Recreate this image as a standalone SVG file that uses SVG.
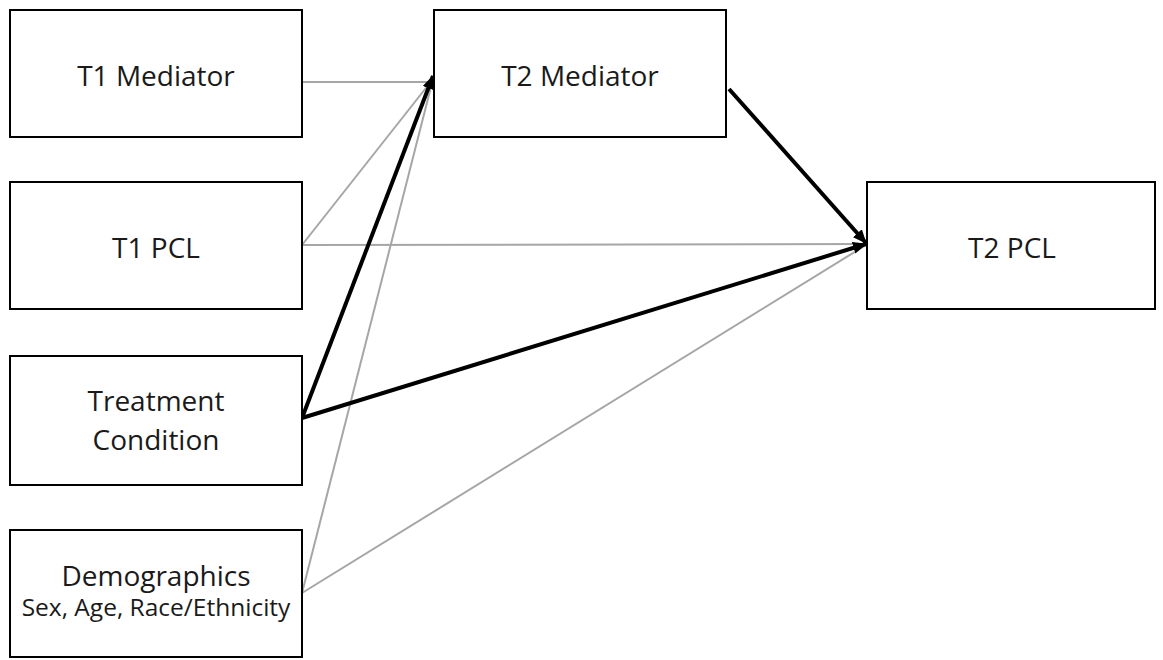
<svg xmlns="http://www.w3.org/2000/svg" width="1163" height="660" viewBox="0 0 1163 660">
<style>
.box{fill:#fff;stroke:#000;stroke-width:2}
.lbl{font-family:"Open Sans","Liberation Sans",sans-serif;font-size:28px;fill:#1a1a1a;text-anchor:middle}
.sub{font-size:24.5px}
.thin{stroke:#a6a6a6;stroke-width:2;fill:none}
.thick{stroke:#000;stroke-width:4;fill:none}
</style>
<defs>
<marker id="ah" markerUnits="userSpaceOnUse" markerWidth="14" markerHeight="12" refX="13" refY="6" orient="auto">
<path d="M0,0 L14,6 L0,12 Z" fill="#000"/>
</marker>
</defs>
<rect width="1163" height="660" fill="#fff"/>
<g id="connectors">
<line class="thin" x1="302" y1="82" x2="432" y2="82"/>
<line class="thin" x1="302" y1="245" x2="433" y2="79"/>
<line class="thin" x1="302" y1="593" x2="433" y2="79"/>
<line class="thin" x1="302" y1="245" x2="866" y2="244"/>
<line class="thin" x1="302" y1="593" x2="866" y2="245"/>
<line class="thick" x1="302" y1="418" x2="433" y2="76" marker-end="url(#ah)"/>
<line class="thick" x1="302" y1="418" x2="866" y2="244" marker-end="url(#ah)"/>
<line class="thick" x1="729" y1="89" x2="866" y2="243" marker-end="url(#ah)"/>
</g>
<g id="t1-mediator">
<rect class="box" x="10" y="10" width="292" height="127"/>
<text class="lbl" x="156" y="86">T1 Mediator</text>
</g>
<g id="t1-pcl">
<rect class="box" x="10" y="182" width="292" height="127"/>
<text class="lbl" x="156" y="258">T1 PCL</text>
</g>
<g id="treatment">
<rect class="box" x="10" y="356" width="292" height="129"/>
<text class="lbl" x="156" y="411">Treatment</text>
<text class="lbl" x="156" y="450">Condition</text>
</g>
<g id="demographics">
<rect class="box" x="10" y="530" width="292" height="127"/>
<text class="lbl" x="156" y="586">Demographics</text>
<text class="lbl sub" x="156" y="616">Sex, Age, Race/Ethnicity</text>
</g>
<g id="t2-mediator">
<rect class="box" x="434" y="10" width="292" height="127"/>
<text class="lbl" x="580" y="86">T2 Mediator</text>
</g>
<g id="t2-pcl">
<rect class="box" x="867" y="182" width="288" height="127"/>
<text class="lbl" x="1012" y="258">T2 PCL</text>
</g>
</svg>
